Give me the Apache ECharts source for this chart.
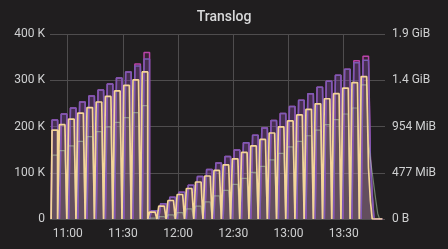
<!DOCTYPE html>
<html>
<head>
<meta charset="utf-8">
<script src="https://cdn.jsdelivr.net/npm/echarts@6/dist/echarts.min.js"></script>
<style>
html,body{margin:0;padding:0;background:#201e1f;}
#chart{width:448px;height:249px;}
</style>
</head>
<body>
<div id="chart"></div>
<script>
// Samples: one per minute, first sample at 10:51
const firstSample = '10:51';

// Translog operations (thousands) – light yellow series
const opsNodeA_K = [
  0,192,192,192,
  0,204,204,204,204,
  0,216,216,216,216,
  0,229,229,229,229,
  0,241,241,241,241,
  0,253,253,253,253,
  0,265,265,265,265,
  0,277,277,277,277,
  0,289,289,289,289,
  0,301,301,301,301,
  0,318,318,318,
  0,15,15,15,15,
  0,28,28,28,28,
  0,40,40,40,40,
  0,53,53,53,53,
  0,66,66,66,66,
  0,80,80,80,80,
  0,93,93,93,93,
  0,105,105,105,105,
  0,117,117,117,117,
  0,130,130,130,130,
  0,144,144,144,144,
  0,158,158,158,158,
  0,172,172,172,172,
  0,186,186,186,186,
  0,199,199,199,199,
  0,212,212,212,212,
  0,225,225,225,225,
  0,237,237,237,237,
  0,249,249,249,249,
  0,260,260,260,260,
  0,271,271,271,271,
  0,283,283,283,283,
  0,295,295,295,295,
  0,308,308,308,308,
  110,40,0,0,0,0,0,0
];

// Translog operations (thousands) – light green series
const opsNodeB_K = [
  0,138,138,138,
  0,148,148,148,148,
  0,158,158,158,158,
  0,168,168,168,168,
  0,178,178,178,178,
  0,189,189,189,189,
  0,199,199,199,199,
  0,209,209,209,209,
  0,219,219,219,219,
  0,230,230,230,230,
  0,245,245,245,
  0,2,2,2,2,
  0,5,5,5,5,
  0,9,9,9,9,
  0,14,14,14,14,
  0,22,22,22,22,
  0,28,28,28,28,
  0,37,37,37,37,
  0,50,50,50,50,
  0,62,62,62,62,
  0,75,75,75,75,
  0,88,88,88,88,
  0,101,101,101,101,
  0,114,114,114,114,
  0,128,128,128,128,
  0,142,142,142,142,
  0,156,156,156,156,
  0,168,168,168,168,
  0,180,180,180,180,
  0,192,192,192,192,
  0,204,204,204,204,
  0,215,215,215,215,
  0,227,227,227,227,
  0,240,240,240,240,
  0,290,290,290,290,
  165,130,100,70,40,12,0,0
];

// Translog size (MB) – violet series
const sizeNodeA_MB = [
  0,1070,1070,1070,1070,
  0,1135,1135,1135,1135,
  0,1200,1200,1200,1200,
  0,1265,1265,1265,1265,
  0,1330,1330,1330,1330,
  0,1395,1395,1395,1395,
  0,1460,1460,1460,1460,
  0,1525,1525,1525,1525,
  0,1590,1590,1590,1590,
  0,1655,1655,1655,1655,
  0,1730,1730,1730,
  0,90,90,90,90,
  0,165,165,165,165,
  0,235,235,235,235,
  0,290,290,290,290,
  0,365,365,365,365,
  0,460,460,460,460,
  0,535,535,535,535,
  0,605,605,605,605,
  0,675,675,675,675,
  0,745,745,745,745,
  0,825,825,825,825,
  0,905,905,905,905,
  0,985,985,985,985,
  0,1065,1065,1065,1065,
  0,1140,1140,1140,1140,
  0,1215,1215,1215,1215,
  0,1285,1285,1285,1285,
  0,1355,1355,1355,1355,
  0,1425,1425,1425,1425,
  0,1490,1490,1490,1490,
  0,1555,1555,1555,1555,
  0,1620,1620,1620,1620,
  0,1690,1690,1690,1690,
  0,1715,1715,1715,1715,
  640,250,0,0,0,0,0
];

// Translog size (MB) – magenta series
const sizeNodeB_MB = [
  0,1070,1070,1070,1070,
  0,1135,1135,1135,1135,
  0,1200,1200,1200,1200,
  0,1265,1265,1265,1265,
  0,1330,1330,1330,1330,
  0,1395,1395,1395,1395,
  0,1460,1460,1460,1460,
  0,1525,1525,1525,1525,
  0,1590,1590,1590,1590,
  0,1675,1675,1675,1675,
  0,1800,1800,1800,
  0,90,90,90,90,
  0,165,165,165,165,
  0,235,235,235,235,
  0,290,290,290,290,
  0,365,365,365,365,
  0,460,460,460,460,
  0,535,535,535,535,
  0,605,605,605,605,
  0,675,675,675,675,
  0,745,745,745,745,
  0,825,825,825,825,
  0,905,905,905,905,
  0,985,985,985,985,
  0,1065,1065,1065,1065,
  0,1140,1140,1140,1140,
  0,1215,1215,1215,1215,
  0,1285,1285,1285,1285,
  0,1355,1355,1355,1355,
  0,1425,1425,1425,1425,
  0,1490,1490,1490,1490,
  0,1555,1555,1555,1555,
  0,1620,1620,1620,1620,
  0,1710,1710,1710,1710,
  0,1760,1760,1760,1760,
  675,260,0,0,0,0,0
];

const xTickLabels = ['11:00', '11:30', '12:00', '12:30', '13:00', '13:30'];
const leftTickLabels = ['0', '100 K', '200 K', '300 K', '400 K'];
const rightTickLabels = ['0 B', '477 MiB', '954 MiB', '1.4 GiB', '1.9 GiB'];
const viewStart = '10:50:23';
const viewEnd = '13:52:27';

// time of day as minutes since midnight
function mins(s) { const p = s.split(':').map(Number); return p[0] * 60 + p[1] + (p[2] || 0) / 60; }
function pad(n) { return (n < 10 ? '0' : '') + n; }
function fmt(m) { const r = Math.round(m); return pad(Math.floor(r / 60)) + ':' + pad(r % 60); }
const start = mins(firstSample);
function series(arr, scale) {
  return arr.map((v, i) => [start + i, v * scale]);
}
const xTickValues = xTickLabels.map(mins);

const font = 'Roboto, "Helvetica Neue", Arial, sans-serif';
const chart = echarts.init(document.getElementById('chart'));

function mk(name, data, color, yIdx, areaOp, width, lineOp) {
  return {
    name, type: 'line', yAxisIndex: yIdx, step: 'middle', symbol: 'none',
    data, color,
    lineStyle: { color, width, opacity: lineOp },
    areaStyle: { color, opacity: areaOp },
    emphasis: { disabled: true }
  };
}

chart.setOption({
  backgroundColor: '#201e1f',
  animation: false,
  title: {
    text: 'Translog', left: 'center', top: 5,
    textStyle: { color: '#d8d9da', fontSize: 14, fontWeight: 500, fontFamily: font }
  },
  grid: { left: 50, right: 63, top: 34, bottom: 30 },
  xAxis: {
    type: 'value',
    min: mins(viewStart), max: mins(viewEnd),
    axisLine: { show: false },
    axisTick: { show: false, customValues: xTickValues },
    splitLine: { show: true, lineStyle: { color: '#4f4d4e', width: 1 } },
    axisLabel: {
      customValues: xTickValues,
      color: '#cfd0d1', fontSize: 12, fontFamily: font, margin: 9,
      formatter: (v) => fmt(v)
    }
  },
  yAxis: [
    {
      type: 'value', min: 0, max: 400000, interval: 100000,
      axisLine: { show: false }, axisTick: { show: false },
      splitLine: { lineStyle: { color: '#4f4d4e', width: 1 } },
      axisLabel: { color: '#cfd0d1', fontSize: 12, fontFamily: font, margin: 5,
        formatter: (v) => leftTickLabels[Math.round(v / 100000)] }
    },
    {
      type: 'value', min: 0, max: 2000000000, interval: 500000000, position: 'right',
      axisLine: { show: false }, axisTick: { show: false },
      splitLine: { show: false },
      axisLabel: { color: '#cfd0d1', fontSize: 12, fontFamily: font, margin: 7,
        formatter: (v) => rightTickLabels[Math.round(v / 500000000)] }
    }
  ],
  series: [
    mk('size-b', series(sizeNodeB_MB, 1e6), '#BA43A9', 1, 0.15, 1.5, 1),
    mk('size-a', series(sizeNodeA_MB, 1e6), '#7C5BB5', 1, 0.22, 1.5, 1),
    mk('ops-b', series(opsNodeB_K, 1000), '#B7DBAB', 0, 0.07, 1.2, 0.5),
    mk('ops-a', series(opsNodeA_K, 1000), '#F4D598', 0, 0.13, 1.7, 1)
  ]
});
</script>
</body>
</html>
